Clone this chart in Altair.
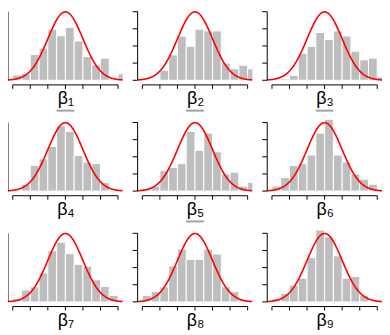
import altair as alt
import pandas as pd

# histogram bins (left edges), width 0.5
bin_starts = [-3.0, -2.5, -2.0, -1.5, -1.0, -0.5, 0.0, 0.5, 1.0, 1.5, 2.0, 2.5, 3.0]
bin_width = 0.5

dens_1 = [0.031, 0.038, 0.150, 0.188, 0.298, 0.260, 0.308, 0.229, 0.138, 0.090, 0.129, 0.000, 0.038]
dens_2 = [0.005, 0.005, 0.058, 0.148, 0.258, 0.198, 0.298, 0.288, 0.288, 0.100, 0.067, 0.088, 0.067]
dens_3 = [0.004, 0.008, 0.029, 0.158, 0.198, 0.279, 0.238, 0.288, 0.258, 0.169, 0.119, 0.129, 0.019]
dens_4 = [0.000, 0.040, 0.150, 0.188, 0.260, 0.380, 0.348, 0.208, 0.169, 0.160, 0.050, 0.000, 0.000]
dens_5 = [0.015, 0.029, 0.119, 0.138, 0.160, 0.348, 0.238, 0.338, 0.229, 0.100, 0.110, 0.029, 0.050]
dens_6 = [0.029, 0.079, 0.150, 0.160, 0.210, 0.338, 0.419, 0.210, 0.169, 0.100, 0.069, 0.040, 0.000]
dens_7 = [0.019, 0.069, 0.088, 0.169, 0.298, 0.348, 0.281, 0.219, 0.208, 0.129, 0.090, 0.038, 0.000]
dens_8 = [0.038, 0.060, 0.088, 0.210, 0.308, 0.248, 0.248, 0.308, 0.279, 0.088, 0.060, 0.015, 0.000]
dens_9 = [0.019, 0.050, 0.098, 0.138, 0.258, 0.419, 0.379, 0.269, 0.138, 0.148, 0.038, 0.000, 0.000]
densities = [dens_1, dens_2, dens_3, dens_4, dens_5, dens_6, dens_7, dens_8, dens_9]

titles = ["β₁", "β₂", "β₃", "β₄", "β₅", "β₆", "β₇", "β₈", "β₉"]
underlined = [True, True, True, False, True, False, False, False, False]

tick_x = [-3, -2, -1, 0, 1, 2, 3]
tick_y = [0.0, 0.1, 0.2, 0.3, 0.4]

W, H = 116, 78
XDOM = [-3.27, 3.27]
YDOM = [-0.027, 0.423]
FONT = "Liberation Sans"


def panel(i):
    df = pd.DataFrame({
        "x0": bin_starts,
        "x1": [b + bin_width for b in bin_starts],
        "d": densities[i],
        "z": [0.0] * len(bin_starts),
    })
    xs = alt.Scale(domain=XDOM, nice=False, zero=False)
    ys = alt.Scale(domain=YDOM, nice=False, zero=False)
    bars = alt.Chart(df).mark_rect(
        color="#bebebe", stroke="white", strokeWidth=1, clip=True
    ).encode(
        x=alt.X("x0:Q", scale=xs, axis=alt.Axis(
            values=tick_x, labels=False, domain=False, grid=False, ticks=False,
            title=titles[i], titleFont=FONT, titleFontSize=18,
            titleFontWeight="normal", titleColor="black", titlePadding=5)),
        x2="x1:Q",
        y=alt.Y("d:Q", scale=ys, axis=None),
        y2="z:Q",
    )
    curve = alt.Chart(alt.sequence(XDOM[0], XDOM[1] + 0.01, 0.02, as_="x")).transform_calculate(
        y="densityNormal(datum.x, 0, 1)"
    ).mark_line(color="#ff0000", strokeWidth=1.6, clip=True).encode(
        x=alt.X("x:Q", scale=xs), y=alt.Y("y:Q", scale=ys)
    )
    axdf = pd.DataFrame({"xa": [tick_x[0]], "xb": [tick_x[-1]], "ya": [tick_y[0]], "yb": [tick_y[-1]]})
    xline = alt.Chart(axdf).mark_rule(color="black", strokeWidth=1).encode(
        x=alt.X("xa:Q", scale=xs), x2="xb:Q", y=alt.value(H)
    )
    yline = alt.Chart(axdf).mark_rule(color="black", strokeWidth=1).encode(
        y=alt.Y("ya:Q", scale=ys), y2="yb:Q", x=alt.value(0)
    )
    xt = alt.Chart(pd.DataFrame({"t": tick_x})).mark_rule(color="black", strokeWidth=1).encode(
        x=alt.X("t:Q", scale=xs), y=alt.value(H), y2=alt.value(H + 4)
    )
    yt = alt.Chart(pd.DataFrame({"t": tick_y})).mark_rule(color="black", strokeWidth=1).encode(
        y=alt.Y("t:Q", scale=ys), x=alt.value(-5), x2=alt.value(0)
    )
    layers = [bars, curve, xline, yline, xt, yt]
    if underlined[i]:
        ul = alt.Chart(axdf).mark_rule(color="#a0a0a0", strokeWidth=2).encode(
            x=alt.value(W / 2 - 9), x2=alt.value(W / 2 + 9), y=alt.value(H + 26)
        )
        layers.append(ul)
    return alt.layer(*layers).properties(width=W, height=H)


rows = [alt.hconcat(*[panel(r * 3 + c) for c in range(3)], spacing=9) for r in range(3)]
chart = alt.vconcat(*rows, spacing=7).properties(
    padding={"left": -6, "top": -2, "right": 0, "bottom": 0},
    background="white",
).configure_view(stroke=None)

chart.save("out.html", embed_options={"renderer": "svg", "actions": False})
